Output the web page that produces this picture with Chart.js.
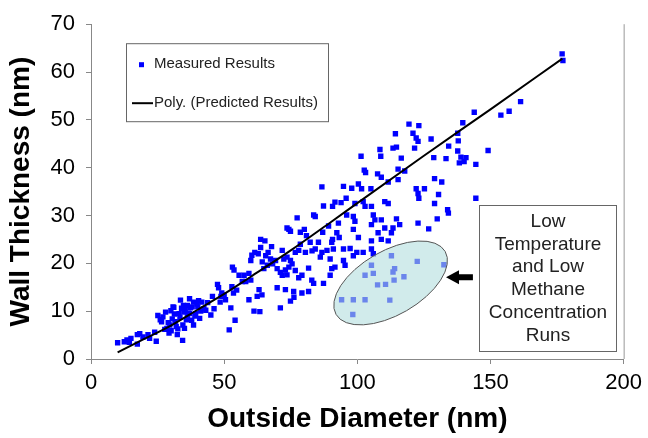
<!DOCTYPE html>
<html>
<head>
<meta charset="utf-8">
<script src="https://cdn.jsdelivr.net/npm/chart.js@4.4.0/dist/chart.umd.min.js"></script>
<style>
  html, body { margin: 0; padding: 0; background: #fff; }
</style>
</head>
<body>
<canvas id="wallChart" width="648" height="438"></canvas>
<script>
// measured points (outside diameter nm / wall thickness nm)
const diameter = [
  10, 12.5, 13.5, 14.4, 15, 17.4, 17.4, 18.3, 19.5, 21.4,
  22, 23.9, 24.5, 25.1, 26, 26.5, 27, 27.7, 28, 28.5,
  29, 29.3, 29.6, 30, 30.1, 30.5, 30.8, 31.1, 31.3, 31.6,
  32, 32.4, 32.6, 33.1, 33.4, 33.6, 34, 34.4, 34.5, 34.7,
  35, 35.1, 35.4, 35.8, 36.2, 36.2, 36.6, 37, 37, 37.4,
  37.8, 38, 38.5, 38.5, 39, 39.3, 39.8, 40.1, 40.4, 40.8,
  41.2, 41.6, 42.4, 43.1, 43.8, 45, 45.6,
  46.2, 47.5, 47.9, 48.5, 48.8, 49.1, 50, 50.5, 51.9, 52.5,
  52.9, 53.1, 53.5, 53.7, 54.1, 54.7, 55.6, 56.8, 57.5, 58.1,
  59.3, 59.3, 60, 60, 60.4, 61.5, 61.2, 62.4, 62.8, 63.1,
  63.4, 64.2, 63.7, 63.7, 64.3, 64.9, 65.3, 65.6, 66.2, 66.5,
  67.4, 68.2, 67.8, 69.3, 69.9, 69.9, 71.1, 71.1, 71.8, 71.8,
  72.4, 73, 73, 73.6, 73.6, 73.6, 74.3, 74.3, 74.9, 74.9,
  74.9, 75.5, 76.2, 76.1, 76.7, 76.7, 77.4, 78, 78, 78.6,
  78.6, 79.2, 79.2, 80.1, 80.5, 80.9, 81.7, 81.7, 82.3, 83,
  82.9, 83.6, 83.6, 84.2, 84.2, 85.4, 86.1, 86.7, 86.7, 87,
  87.3, 87.3, 88.6, 89.2, 89.8, 89.8, 90.4, 90.4, 90.7, 90.7,
  91, 91.6, 91.6, 92.3, 92.9, 93.2, 93.9, 94.8, 94.8, 94.8,
  95.4, 95.8, 96, 97.3, 97.9, 98.5, 98.5, 98.5, 99.1, 99.1,
  99.8, 100.4, 100.4, 101.4, 101.6, 102.2, 102.2, 102.6, 102.9, 103.1,
  105.1, 105.3, 105.3, 105.3, 105.3, 106, 106, 106.6, 107.6, 107.8,
  108.5, 108.8, 109, 109, 109, 110.3, 110.3, 111.6, 111.6, 111.6,
  112.8, 113.4, 113.4, 114.3, 114.7, 114.7, 115.3, 115.3, 115.9, 116.5,
  117.8, 119.4, 120.9, 121.5, 122.1, 122.1, 122.8, 122.8, 122.8, 123.1,
  123.1, 125.2, 126.8, 127.7, 128.7, 129, 129, 130, 130.5, 131.7,
  133.3, 133.9, 134.2, 134.3, 137.7, 137.7, 137.9, 138.3, 138.9, 139.6,
  140.1, 140.8, 143.9, 144.5, 144.5, 149.1, 153.9, 157, 161.3, 176.9,
  177.2
];
const thickness = [
  3.4, 3.6, 4, 3.5, 4.3, 3.1, 5.1, 5.3, 4.6, 5.1,
  4.3, 5.6, 3.7, 9.1, 8.2, 7.8, 8.8, 6.2, 9.8, 6.4,
  7.6, 5.4, 7.1, 10.1, 5.9, 8.4, 10.9, 10.8, 9.4, 7.8,
  6.8, 5.1, 6.3, 9.5, 8.7, 12.3, 10.6, 3.9, 7.1, 11.2,
  9.8, 6.4, 10.2, 8.2, 8.8, 11.2, 9.6, 12.6, 9.5, 10.7,
  8.1, 10.9, 11.9, 7.1, 9, 9.5, 11.5, 10.9, 12.2, 8.5,
  10, 11.9, 10.5, 10.2, 11.8, 9.2, 13.1,
  10.5, 15.6, 14.9, 11.9, 13.1, 13.8, 13.4, 12.4, 6.1, 10.7,
  15.1, 19.2, 13.8, 18.6, 8.1, 14.4, 17.5, 16.2, 17.5, 16.2,
  17.9, 12.4, 16.5, 20.6, 21.7, 22.3, 10, 13.1, 22, 14.5,
  9.9, 13.4, 23.3, 25, 20.3, 18.9, 24.7, 21.6, 19.6, 22.3,
  20.9, 19.9, 23.5, 20.6, 18.9, 14.9, 18.1, 10.7, 22.7, 17.5,
  20.9, 18.6, 14.5, 27.4, 21.3, 17.6, 27.1, 19.2, 26.7, 20.6,
  12.1, 19.9, 12.9, 14.1, 22.3, 18.5, 29.5, 22.7, 17, 26.5,
  24, 17.5, 13.8, 27.1, 22.3, 25.8, 14.1, 19, 24.4, 22.6,
  16.5, 30.1, 15.8, 29.8, 23, 24.4, 21.3, 22.3, 36, 26.5,
  32, 15.8, 22.7, 27.8, 17.5, 20.9, 24.4, 18.9, 31.9, 25,
  23, 32.8, 19.2, 26.4, 28.4, 25.4, 32.7, 36.1, 20.6, 23,
  19.6, 33.6, 30.1, 23.1, 35.7, 29.8, 27.1, 21.6, 32.5, 28.8,
  22.3, 36.6, 25.4, 42.4, 35.6, 32.9, 22.3, 39.5, 31.9, 39,
  35.6, 31.9, 28.1, 24.7, 23, 30.1, 22, 29.1, 38.7, 26.4,
  43.8, 42.4, 38, 29.1, 25, 32.9, 27.4, 37, 32.5, 24.7,
  26.4, 44.1, 27.4, 47.1, 44.3, 29.3, 39.7, 37.5, 28.1, 42,
  39.3, 49.1, 47.2, 44.1, 46.2, 35.6, 45.5, 34.6, 28.4, 48.8,
  33.6, 35.6, 27.2, 46, 42.1, 37.7, 32.5, 29.3, 34.4, 37,
  41.9, 31.2, 30.5, 44.5, 47.2, 43.5, 45.6, 41, 42.2, 49.4,
  41.3, 42.1, 51.6, 40.7, 33.6, 43.6, 51, 51.8, 53.8, 63.8,
  62.4
];
// low temperature / low methane runs (inside the ellipse)
const lowRunDiameter = [94.1, 98.5, 98.3, 102.9, 102.9, 105.3, 106, 107.6, 110.6, 112.2, 112.8, 113.4, 113.8, 114, 117.5, 122.5, 132.5];
const lowRunThickness = [12.4, 12.4, 9.3, 12.4, 17.5, 19.6, 17.9, 15.5, 15.6, 12.3, 21.6, 18.2, 16.5, 18.9, 17.2, 20.4, 19.7];

// polynomial trend line (predicted)
const polyDiameter = [10, 20, 30, 40, 50, 60, 75, 90, 100, 125, 150, 177];
const polyThickness = [1.4, 4.2, 7.0, 10.3, 13.6, 17.2, 22.7, 28.6, 32.6, 42.5, 52.2, 62.8];

const xTicks = [0, 50, 100, 150, 200];
const yTicks = [0, 10, 20, 30, 40, 50, 60, 70];
const legendLabels = ['Measured Results', 'Poly. (Predicted Results)'];
const noteLines = ['Low', 'Temperature', 'and Low', 'Methane', 'Concentration', 'Runs'];

const FONT = '"Liberation Sans", Arial, sans-serif';
const BLUE = '#0000ff';

const toPoints = (xs, ys) => xs.map((x, i) => ({ x: x, y: ys[i] }));

// ellipse, arrow and note box are placed in data units
const ellipse = { x: 112.5, y: 15.9, rx: 63, ry: 32, angle: -Math.PI / 6 };
const arrow = { from: 143.4, to: 133.3, y: 17.1 };
const noteBox = { x0: 145.5, x1: 197.3, y0: 32.2, y1: 1.6 };

const annotations = {
  id: 'annotations',
  afterDatasetsDraw(chart) {
    const { ctx, scales: { x, y } } = chart;
    ctx.save();
    ctx.beginPath();
    ctx.ellipse(x.getPixelForValue(ellipse.x), y.getPixelForValue(ellipse.y),
      ellipse.rx, ellipse.ry, ellipse.angle, 0, Math.PI * 2);
    ctx.fillStyle = 'rgba(178, 222, 222, 0.6)';
    ctx.fill();
    ctx.strokeStyle = '#555';
    ctx.lineWidth = 1;
    ctx.stroke();
    ctx.restore();
  },
  afterDraw(chart) {
    const { ctx, chartArea: a, scales: { x, y } } = chart;
    ctx.save();

    // right border of plot area
    ctx.strokeStyle = '#999';
    ctx.lineWidth = 1;
    ctx.beginPath();
    ctx.moveTo(a.right + 0.5, a.top);
    ctx.lineTo(a.right + 0.5, a.bottom);
    ctx.stroke();

    // legend box
    const lx = a.left + 35, ly = a.top + 19, lw = 202, lh = 78;
    ctx.fillStyle = '#fff';
    ctx.fillRect(lx, ly, lw, lh);
    ctx.strokeStyle = '#666';
    ctx.strokeRect(lx + 0.5, ly + 0.5, lw, lh);
    ctx.fillStyle = BLUE;
    ctx.fillRect(lx + 13, ly + 19, 5, 5);
    ctx.strokeStyle = '#000';
    ctx.lineWidth = 2;
    ctx.beginPath();
    ctx.moveTo(lx + 6, ly + 60);
    ctx.lineTo(lx + 27, ly + 60);
    ctx.stroke();
    ctx.fillStyle = '#222';
    ctx.font = '15px ' + FONT;
    ctx.textBaseline = 'middle';
    ctx.textAlign = 'left';
    ctx.fillText(legendLabels[0], lx + 28, ly + 21);
    ctx.fillText(legendLabels[1], lx + 28, ly + 60);

    // arrow pointing at the ellipse
    const ay = y.getPixelForValue(arrow.y);
    const tip = x.getPixelForValue(arrow.to);
    const tail = x.getPixelForValue(arrow.from);
    ctx.fillStyle = '#000';
    ctx.beginPath();
    ctx.moveTo(tip, ay);
    ctx.lineTo(tip + 13, ay - 7);
    ctx.lineTo(tip + 13, ay - 3);
    ctx.lineTo(tail, ay - 3);
    ctx.lineTo(tail, ay + 3);
    ctx.lineTo(tip + 13, ay + 3);
    ctx.lineTo(tip + 13, ay + 7);
    ctx.closePath();
    ctx.fill();

    // note box
    const bx0 = Math.round(x.getPixelForValue(noteBox.x0)) + 0.5;
    const bx1 = Math.round(x.getPixelForValue(noteBox.x1)) + 0.5;
    const by0 = Math.round(y.getPixelForValue(noteBox.y0)) + 0.5;
    const by1 = Math.round(y.getPixelForValue(noteBox.y1)) + 0.5;
    ctx.fillStyle = '#fff';
    ctx.fillRect(bx0, by0, bx1 - bx0, by1 - by0);
    ctx.strokeStyle = '#666';
    ctx.lineWidth = 1;
    ctx.strokeRect(bx0, by0, bx1 - bx0, by1 - by0);
    ctx.fillStyle = '#222';
    ctx.font = '19px ' + FONT;
    ctx.textAlign = 'center';
    const cx = (bx0 + bx1) / 2;
    noteLines.forEach((t, i) => ctx.fillText(t, cx, by0 + 16 + i * 22.8));

    ctx.restore();
  }
};

const data = {
  datasets: [{
    type: 'line',
    label: legendLabels[1],
    data: toPoints(polyDiameter, polyThickness),
    borderColor: '#000',
    borderWidth: 2,
    pointRadius: 0,
    cubicInterpolationMode: 'monotone',
    fill: false,
    order: 0
  },
  {
    type: 'scatter',
    label: legendLabels[0],
    data: toPoints(diameter, thickness),
    backgroundColor: BLUE,
    pointStyle: 'rect',
    pointRadius: 3.8,
    borderWidth: 0,
    order: 1
  },
  {
    type: 'scatter',
    label: legendLabels[0],
    data: toPoints(lowRunDiameter, lowRunThickness),
    backgroundColor: BLUE,
    pointStyle: 'rect',
    pointRadius: 3.8,
    borderWidth: 0,
    order: 2
  }]
};

const config = {
  type: 'scatter',
  data,
  options: {
    responsive: false,
    animation: false,
    devicePixelRatio: 1,
    layout: { padding: { top: 17, right: 21, bottom: 0, left: 0 } },
    plugins: {
      legend: { display: false },
      tooltip: { enabled: false }
    },
    scales: {
      x: {
        type: 'linear',
        min: 0,
        max: 200,
        afterBuildTicks: (s) => { s.ticks = xTicks.map(v => ({ value: v })); },
        afterFit: (s) => { s.height = 79; },
        ticks: { color: '#000', font: { family: FONT, size: 22 }, padding: 6 },
        grid: { drawOnChartArea: false, tickLength: 5, color: '#888' },
        border: { color: '#888', width: 1 },
        title: {
          display: true,
          text: 'Outside Diameter (nm)',
          color: '#000',
          font: { family: FONT, size: 28, weight: 'bold' },
          padding: { top: 0, bottom: 2 }
        }
      },
      y: {
        type: 'linear',
        min: 0,
        max: 70,
        afterBuildTicks: (s) => { s.ticks = yTicks.map(v => ({ value: v })); },
        afterFit: (s) => { s.width = 91; },
        ticks: { color: '#000', font: { family: FONT, size: 22 }, padding: 11 },
        grid: { drawOnChartArea: false, tickLength: 5, color: '#888' },
        border: { color: '#888', width: 1 },
        title: {
          display: true,
          text: 'Wall Thickness (nm)',
          color: '#000',
          font: { family: FONT, size: 28, weight: 'bold' },
          padding: { top: 4, bottom: 0 }
        }
      }
    }
  },
  plugins: [annotations]
};

const wallChart = new Chart(document.getElementById('wallChart'), config);
</script>
</body>
</html>
